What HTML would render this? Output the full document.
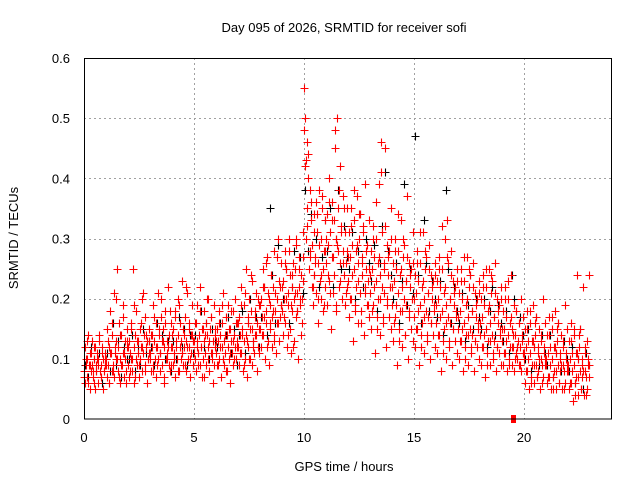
<!DOCTYPE html>
<html><head><meta charset="utf-8"><style>
html,body{margin:0;padding:0;background:#fff;}
svg{display:block;font-family:"Liberation Sans",sans-serif;}
</style></head><body>
<svg id="chart" width="640" height="480" viewBox="0 0 640 480" xmlns="http://www.w3.org/2000/svg">
<rect width="640" height="480" fill="#fff"/>
<g id="grid"></g>
<g id="marks"></g>
<rect x="84.5" y="58.5" width="527" height="360.5" fill="none" stroke="#000" stroke-width="1"/>
<g id="ticks"></g>
<text x="344" y="32" font-size="13" text-anchor="middle">Day 095 of 2026, SRMTID for receiver sofi</text>
<text x="344" y="471" font-size="13" text-anchor="middle">GPS time / hours</text>
<text x="18" y="238" font-size="13" text-anchor="middle" transform="rotate(-90 18 238)">SRMTID / TECUs</text>
</svg>
<script>
const xTicks=[0,5,10,15,20];
const yTicks=[0,0.1,0.2,0.3,0.4,0.5,0.6];
const yTickLabels=["0","0.1","0.2","0.3","0.4","0.5","0.6"];
const redVals=("8 12 6 9 10 7 14 9 5 11 8 13 9 7 10 6 12 8 9 11 6 10 13 8 7 9 12 10 5 8 11 9 "+
"10 7 15 9 12 6 18 11 8 14 9 21 7 11 13 10 25 8 12 16 6 10 14 9 11 19 7 13 10 8 15 12 "+
"9 13 7 11 16 10 8 25 12 6 14 10 18 9 11 13 7 15 10 12 20 8 11 14 9 17 12 6 13 10 15 11 "+
"11 8 14 12 19 9 13 10 16 7 12 21 10 14 8 11 17 13 9 15 12 6 18 10 13 11 22 9 14 8 12 16 "+
"12 9 15 11 18 7 13 10 20 14 8 12 16 10 23 11 9 14 12 17 8 13 21 10 15 12 7 14 11 19 9 13 "+
"13 10 16 8 12 19 11 14 9 22 12 7 15 10 18 13 11 16 9 14 20 12 8 15 11 17 10 13 6 19 12 14 "+
"11 15 9 13 18 10 14 7 16 12 21 9 13 11 17 8 14 12 19 10 15 6 13 11 18 9 14 12 20 10 16 13 "+
"12 17 9 14 22 11 15 8 19 13 10 25 14 7 16 12 20 10 15 18 9 23 13 11 17 14 21 8 16 12 19 15 "+
"15 20 12 17 25 14 22 10 18 16 27 13 21 9 19 15 24 17 12 22 28 14 18 11 20 16 30 13 23 17 19 26 "+
"18 23 14 20 28 16 25 12 21 19 30 15 24 11 22 18 26 20 13 25 17 29 21 10 22 27 19 14 24 20 31 23 "+
"55 42 50 30 46 35 44 25 38 28 33 22 29 19 34 24 27 36 21 31 16 26 38 23 30 20 35 25 18 28 33 22 "+
"26 34 19 29 40 23 31 15 27 36 21 33 24 48 30 18 50 28 35 22 42 26 32 20 28 37 24 19 31 26 35 22 "+
"23 31 17 27 35 20 29 13 25 33 19 28 22 37 16 26 30 21 34 18 27 24 32 14 22 39 25 19 29 23 33 17 "+
"21 28 15 25 32 19 27 11 23 30 17 26 20 39 14 24 46 22 31 16 26 21 45 12 20 29 24 17 28 22 35 15 "+
"19 26 13 23 30 17 25 9 21 28 15 24 18 33 12 22 27 20 29 14 23 19 37 10 18 26 22 15 25 20 31 13 "+
"17 24 12 21 28 15 23 9 19 26 14 22 16 31 11 20 25 18 27 13 21 17 29 10 16 24 20 14 23 18 26 12 "+
"16 23 11 20 27 14 22 8 18 25 13 21 15 30 10 19 33 17 26 12 20 16 28 9 15 23 19 13 22 17 25 11 "+
"15 21 10 18 25 13 20 8 16 23 12 19 14 27 9 17 22 15 24 11 18 14 26 8 13 21 17 12 20 15 23 10 "+
"14 20 9 17 24 12 19 7 15 22 11 18 13 25 9 16 21 14 23 10 17 13 26 8 12 20 16 11 19 14 22 9 "+
"13 18 9 15 22 11 17 8 14 20 10 16 12 24 9 15 12 19 8 14 11 18 10 13 9 16 12 20 8 14 11 17 "+
"10 15 6 12 18 8 13 5 11 16 7 13 9 19 6 12 14 9 17 7 11 8 15 5 10 13 9 20 7 12 10 16 "+
"9 14 6 11 17 7 12 5 10 15 7 12 8 18 5 11 13 9 16 6 10 8 14 5 9 12 8 19 6 11 9 15 "+
"8 13 5 10 16 6 11 3 9 14 6 11 7 24 4 10 12 8 15 5 9 7 22 4 8 11 7 13 5 10 9 24").split(" ").map(v=>+v/100);
const redVals2=("7 10 13 6 9 11 8 12 5 10 9 14 7 11 8 10 "+
"9 13 6 11 16 8 12 20 10 7 14 9 17 11 6 13 "+
"12 8 15 10 19 7 13 11 9 16 12 21 8 14 10 13 "+
"10 14 8 17 12 9 15 11 20 13 7 16 10 12 18 9 "+
"14 10 17 12 8 19 13 11 15 9 22 12 16 10 14 13 "+
"11 16 13 9 18 12 15 7 14 20 10 13 17 11 9 15 "+
"13 9 16 12 19 10 14 17 8 15 11 18 13 10 16 12 "+
"16 11 19 14 9 21 13 17 10 24 15 12 18 14 20 11 "+
"19 14 22 17 26 12 20 16 24 18 13 21 27 16 22 19 "+
"22 17 26 20 14 28 19 24 12 21 30 18 25 20 16 27 "+
"48 43 32 40 27 36 22 31 26 34 20 29 24 37 19 28 "+
"30 24 36 21 33 27 45 19 29 38 23 31 26 35 21 28 "+
"27 20 32 24 38 18 29 23 34 16 26 31 21 28 19 25 "+
"24 18 30 22 36 15 27 20 41 17 25 32 19 27 22 30 "+
"22 16 28 19 34 13 25 18 30 14 23 27 17 24 20 26 "+
"20 15 26 18 31 12 23 17 28 14 21 25 16 22 19 24 "+
"19 14 25 17 32 11 22 16 27 13 20 24 15 21 18 23 "+
"17 13 23 15 27 10 20 14 25 12 18 22 13 19 16 21 "+
"16 12 22 14 25 9 19 13 24 11 17 21 12 18 15 20 "+
"15 11 20 13 23 9 17 12 14 10 18 12 16 9 13 11 "+
"11 8 15 10 18 6 13 9 16 7 12 10 14 6 11 9 "+
"10 7 14 9 17 5 12 8 15 6 11 9 13 5 10 8 "+
"9 6 13 8 15 4 11 7 14 5 10 8 12 4 9 7").split(" ").map(v=>+v/100);
const blackVals=("9 7 12 10 8 11 6 9 11 8 16 9 13 7 12 10 10 14 8 12 9 15 11 13 12 9 16 11 14 10 13 8 "+
"13 10 17 12 15 9 14 11 14 11 18 12 16 10 15 13 12 16 10 14 17 11 15 9 14 18 11 16 20 13 17 12 "+
"17 22 14 35 24 16 29 19 20 25 16 22 28 18 27 21 38 28 34 24 30 22 27 33 28 35 22 30 38 25 32 27 "+
"25 31 20 28 34 22 30 26 23 29 18 26 32 41 28 24 20 26 16 23 39 19 25 21 47 24 16 33 26 18 23 20 "+
"17 23 14 38 25 16 22 18 16 21 13 19 24 15 20 17 15 20 12 18 22 14 19 16 13 18 11 24 20 12 17 14 "+
"10 15 8 12 17 9 14 11 9 14 7 11 16 8 13 10 8 12 6 10 15 5 11 9").split(" ").map(v=>+v/100);
const redStep=1/32, red2Step=1/16, blackStep=1/8;
const markerTimes=[19.5];
const markerVals=[0];

const NS="http://www.w3.org/2000/svg";
const X0=84,X1=612,Y0=419,Y1=58,XMAX=24,YMAX=0.6;
function sx(t){return X0+(t/XMAX)*(X1-X0);}
function sy(v){return Y0-(v/YMAX)*(Y0-Y1);}
const grid=document.getElementById('grid'),ticks=document.getElementById('ticks'),marks=document.getElementById('marks');
function mk(tag,attrs,parent){const e=document.createElementNS(NS,tag);for(const k in attrs)e.setAttribute(k,attrs[k]);parent.appendChild(e);return e;}
xTicks.forEach(t=>{
  const x=Math.round(sx(t))+0.5;
  if(t>0){const g=mk('line',{x1:x,x2:x,y1:Y1,y2:Y0,stroke:'#a0a0a0','stroke-dasharray':'2,3'},grid);
  
  }
  const l=mk('text',{x:sx(t),y:442,'font-size':'13','text-anchor':'middle'},ticks);
  l.textContent=String(t);
  
  
});
yTicks.forEach((v,i)=>{
  const y=Math.round(sy(v))+0.5;
  if(v>0&&v<YMAX){const g=mk('line',{x1:X0,x2:X1,y1:y,y2:y,stroke:'#a0a0a0','stroke-dasharray':'2,3'},grid);
  
  }
  const l=mk('text',{x:70,y:sy(v)+5,'font-size':'13','text-anchor':'end'},ticks);
  l.textContent=yTickLabels[i];
  
  
});
function plus(t,v,color,name){
  const x=Math.round(sx(t))+0.5,y=Math.round(sy(v))+0.5;
  const p=mk('path',{d:`M${x-4} ${y}H${x+4}M${x} ${y-4}V${y+4}`,stroke:color,'stroke-width':'1.1',fill:'none'},marks);
  
  
}
blackVals.forEach((v,i)=>plus(i*blackStep+blackStep/2,v,'#000','point-black'));
redVals.forEach((v,i)=>plus(i*redStep,v,'#f00','point-red'));
redVals2.forEach((v,i)=>plus(i*red2Step+red2Step/4,v,'#f00','point-red'));
markerTimes.forEach((t,i)=>{
  const r=mk('rect',{x:sx(t)-2,y:sy(markerVals[i])-4,width:5,height:8,fill:'#f00'},marks);
  
  
});
</script>
</body></html>
